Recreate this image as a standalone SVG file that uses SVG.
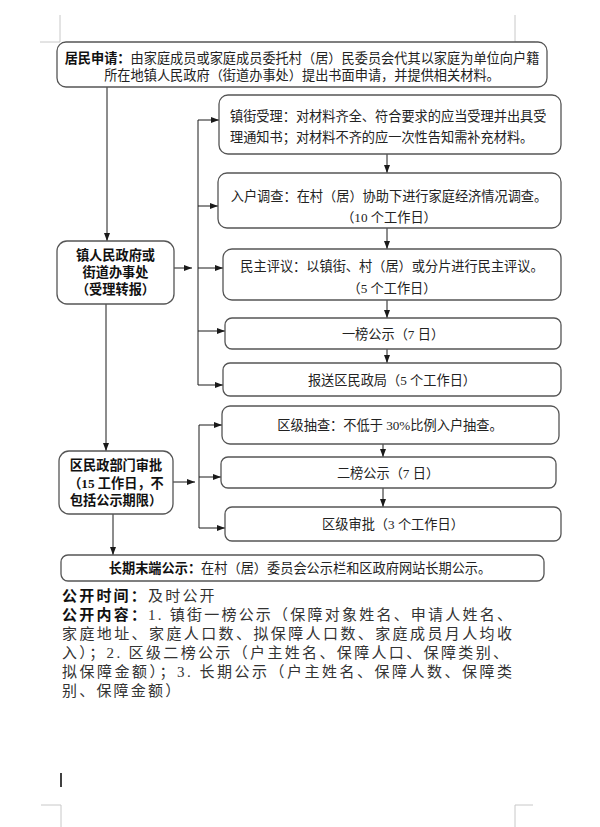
<svg xmlns="http://www.w3.org/2000/svg" width="600" height="827" viewBox="0 0 600 827">
<defs>
<marker id="ah" markerWidth="8" markerHeight="6" refX="8" refY="3" orient="auto" markerUnits="userSpaceOnUse">
<path d="M0,0 L8,3 L0,6 Z" fill="#1a1a1a"/>
</marker>
</defs>
<style>
.box{fill:#fff;stroke:#555;stroke-width:1.3}
.t{font-family:"Liberation Serif","Noto Sans CJK SC",sans-serif;font-size:13.2px;fill:#222}
.tb{font-family:"Liberation Serif","Noto Sans CJK SC",sans-serif;font-size:13.2px;font-weight:bold;fill:#111}
.c{text-anchor:middle}
.ln{stroke:#1a1a1a;stroke-width:1;fill:none}
.ar{stroke:#1a1a1a;stroke-width:1;fill:none;marker-end:url(#ah)}
.mark{stroke:#c8c8c8;stroke-width:1;fill:none}
.p{font-family:"Liberation Serif","Noto Sans CJK SC",serif;font-size:15px;fill:#333}
.pb{font-weight:bold;fill:#111}
</style>
<rect width="600" height="827" fill="#fff"/>
<g id="page-marks">
<path class="mark" d="M60,15 V42 M40,42 H60"/>
<path class="mark" d="M515,15 V42 M515,42 H535"/>
<path class="mark" d="M61,805 V827 M41,805 H61"/>
<path class="mark" d="M515,805 V827 M515,805 H533"/>
<line x1="61" y1="773" x2="61" y2="787" stroke="#111" stroke-width="1.6"/>
</g>
<g id="connectors">
<line class="ar" x1="107" y1="87" x2="107" y2="241"/>
<line class="ar" x1="174" y1="268" x2="192" y2="268"/>
<line class="ln" x1="198" y1="120" x2="198" y2="385"/>
<line class="ar" x1="198" y1="120" x2="219" y2="120"/>
<line class="ar" x1="198" y1="206" x2="218" y2="206"/>
<line class="ar" x1="198" y1="268" x2="223" y2="268"/>
<line class="ar" x1="198" y1="331" x2="225" y2="331"/>
<line class="ar" x1="198" y1="385" x2="223" y2="385"/>
<line class="ar" x1="387" y1="154" x2="387" y2="173"/>
<line class="ar" x1="387" y1="228" x2="387" y2="249"/>
<line class="ar" x1="387" y1="300" x2="387" y2="318"/>
<line class="ar" x1="387" y1="349" x2="387" y2="363"/>
<line class="ar" x1="106" y1="304" x2="106" y2="451"/>
<line class="ar" x1="173" y1="482" x2="195" y2="482"/>
<line class="ln" x1="199" y1="425" x2="199" y2="528"/>
<line class="ar" x1="199" y1="425" x2="222" y2="425"/>
<line class="ar" x1="199" y1="477" x2="221" y2="477"/>
<line class="ar" x1="199" y1="528" x2="225" y2="528"/>
<line class="ar" x1="383" y1="444" x2="383" y2="457"/>
<line class="ar" x1="383" y1="488" x2="383" y2="507"/>
<line class="ar" x1="113" y1="514" x2="113" y2="555"/>
</g>
<g id="n-apply">
<rect class="box" x="57" y="42" width="490" height="45" rx="9"/>
<text class="t c" x="302" y="62.5"><tspan class="tb">居民申请：</tspan>由家庭成员或家庭成员委托村（居）民委员会代其以家庭为单位向户籍</text>
<text class="t c" x="302" y="80">所在地镇人民政府（街道办事处）提出书面申请，并提供相关材料。</text>
</g>
<g id="n-accept">
<rect class="box" x="219" y="95" width="342" height="59" rx="9"/>
<text class="t" x="230" y="121">镇街受理：对材料齐全、符合要求的应当受理并出具受</text>
<text class="t" x="230" y="142">理通知书；对材料不齐的应一次性告知需补充材料。</text>
</g>
<g id="n-survey">
<rect class="box" x="218" y="173" width="343" height="55" rx="9"/>
<text class="t c" x="389" y="201">入户调查：在村（居）协助下进行家庭经济情况调查。</text>
<text class="t c" x="389" y="222">（10 个工作日）</text>
</g>
<g id="n-review">
<rect class="box" x="223" y="249" width="338" height="51" rx="9"/>
<text class="t c" x="392" y="271">民主评议：以镇街、村（居）或分片进行民主评议。</text>
<text class="t c" x="392" y="293">（5 个工作日）</text>
</g>
<g id="n-notice1">
<rect class="box" x="225" y="318" width="336" height="31" rx="7"/>
<text class="t c" x="393" y="338.5">一榜公示（7 日）</text>
</g>
<g id="n-report">
<rect class="box" x="223" y="363" width="338" height="33" rx="7"/>
<text class="t c" x="392" y="384.5">报送区民政局（5 个工作日）</text>
</g>
<g id="n-town">
<rect class="box" x="57" y="241" width="117" height="63" rx="10"/>
<text class="tb c" x="115.5" y="260">镇人民政府或</text>
<text class="tb c" x="115.5" y="277">街道办事处</text>
<text class="tb c" x="115.5" y="294">（受理转报）</text>
</g>
<g id="n-district">
<rect class="box" x="59" y="451" width="114" height="63" rx="10"/>
<text class="tb c" x="116" y="470">区民政部门审批</text>
<text class="tb c" x="116" y="488">（15 工作日，不</text>
<text class="tb c" x="116" y="505">包括公示期限）</text>
</g>
<g id="n-check">
<rect class="box" x="222" y="406" width="337" height="38" rx="8"/>
<text class="t c" x="390" y="429.5">区级抽查：不低于 30%比例入户抽查。</text>
</g>
<g id="n-notice2">
<rect class="box" x="221" y="457" width="335" height="31" rx="7"/>
<text class="t c" x="388" y="477.5">二榜公示（7 日）</text>
</g>
<g id="n-approve">
<rect class="box" x="225" y="507" width="336" height="34" rx="7"/>
<text class="t c" x="393" y="529">区级审批（3 个工作日）</text>
</g>
<g id="n-longterm">
<rect class="box" x="61" y="555" width="483" height="26" rx="7"/>
<text class="t c" x="300" y="572.5"><tspan class="tb">长期末端公示：</tspan>在村（居）委员会公示栏和区政府网站长期公示。</text>
</g>
<g id="notes">
<text class="p" x="62" y="601" letter-spacing="2.2"><tspan class="pb">公开时间：</tspan>及时公开</text>
<text class="p" x="62" y="620" textLength="450" lengthAdjust="spacing"><tspan class="pb">公开内容：</tspan>1. 镇街一榜公示（保障对象姓名、申请人姓名、</text>
<text class="p" x="62" y="639" textLength="450" lengthAdjust="spacing">家庭地址、家庭人口数、拟保障人口数、家庭成员月人均收</text>
<text class="p" x="62" y="658" textLength="446" lengthAdjust="spacing">入）；2. 区级二榜公示（户主姓名、保障人口、保障类别、</text>
<text class="p" x="62" y="677" textLength="450" lengthAdjust="spacing">拟保障金额）；3. 长期公示（户主姓名、保障人数、保障类</text>
<text class="p" x="62" y="696" letter-spacing="2.2">别、保障金额）</text>
</g>
</svg>
